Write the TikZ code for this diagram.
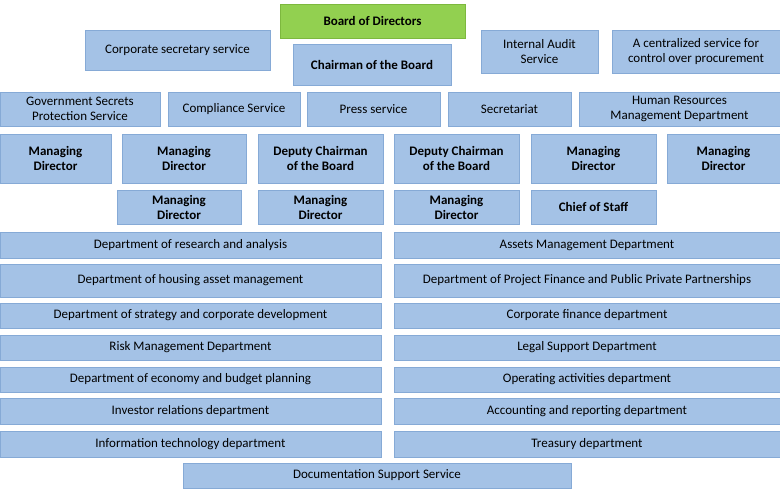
\documentclass[tikz,border=0pt]{standalone}
\usepackage{fontspec}
\setmainfont{Carlito}
\definecolor{bfill}{HTML}{A4C2E6}
\definecolor{bdraw}{HTML}{86AAD6}
\definecolor{gfill}{HTML}{92D050}
\definecolor{gdraw}{HTML}{7DB83E}
\newcommand\mybox[7]{\node[box,#6,minimum width={(#3-#1)*1pt},minimum height={(#4-#2)*1pt}] (#5) at ({(#1+#3)/2},{(#2+#4)/2}) {#7};}
\begin{document}
\begin{tikzpicture}[x=1pt,y=-1pt,
  box/.style={draw=bdraw,fill=bfill,line width=0.6pt,inner sep=1pt,align=center,font=\fontsize{13}{15}\selectfont,text=black},
  bld/.style={font=\fontsize{13}{15}\selectfont\bfseries},
  grn/.style={fill=gfill,draw=gdraw}]
\useasboundingbox (0,0) rectangle (780,500);
\mybox{280}{4}{465}{38}{bod}{bld,grn}{Board of Directors}
\mybox{85}{30}{270}{70}{css}{}{Corporate secretary service}
\mybox{293}{44}{451}{85}{chb}{bld}{Chairman of the Board}
\mybox{481}{30}{598}{73}{ias}{}{Internal Audit\\Service}
\mybox{612}{30}{780}{73}{csp}{}{A centralized service for\\control over procurement}
\mybox{0}{92}{160}{126}{gsp}{}{Government Secrets\\Protection Service}
\mybox{168}{92}{300}{126}{cs}{}{Compliance Service}
\mybox{307}{92}{440}{126}{ps}{}{Press service}
\mybox{448}{92}{571}{126}{sec}{}{Secretariat}
\mybox{579}{92}{780}{126}{hr}{}{Human Resources\\Management Department}
\mybox{0}{134}{111}{183}{md1}{bld}{Managing\\Director}
\mybox{122}{134}{246}{183}{md2}{bld}{Managing\\Director}
\mybox{258}{134}{383}{183}{dc1}{bld}{Deputy Chairman\\of the Board}
\mybox{394}{134}{519}{183}{dc2}{bld}{Deputy Chairman\\of the Board}
\mybox{531}{134}{656}{183}{md3}{bld}{Managing\\Director}
\mybox{667}{134}{780}{183}{md4}{bld}{Managing\\Director}
\mybox{117}{190}{241}{224}{md5}{bld}{Managing\\Director}
\mybox{258}{190}{383}{224}{md6}{bld}{Managing\\Director}
\mybox{394}{190}{519}{224}{md7}{bld}{Managing\\Director}
\mybox{531}{190}{656}{224}{cos}{bld}{Chief of Staff}
\mybox{0}{232}{381}{258}{l1}{}{Department of research and analysis}
\mybox{394}{232}{780}{258}{r1}{}{Assets Management Department}
\mybox{0}{264}{381}{297}{l2}{}{Department of housing asset management}
\mybox{394}{264}{780}{297}{r2}{}{Department of Project Finance and Public Private Partnerships}
\mybox{0}{303}{381}{328}{l3}{}{Department of strategy and corporate development}
\mybox{394}{303}{780}{328}{r3}{}{Corporate finance department}
\mybox{0}{335}{381}{360}{l4}{}{Risk Management Department}
\mybox{394}{335}{780}{360}{r4}{}{Legal Support Department}
\mybox{0}{367}{381}{392}{l5}{}{Department of economy and budget planning}
\mybox{394}{367}{780}{392}{r5}{}{Operating activities department}
\mybox{0}{398}{381}{424}{l6}{}{Investor relations department}
\mybox{394}{398}{780}{424}{r6}{}{Accounting and reporting department}
\mybox{0}{431}{381}{457}{l7}{}{Information technology department}
\mybox{394}{431}{780}{457}{r7}{}{Treasury department}
\mybox{183}{463}{571}{488}{dss}{}{Documentation Support Service}
\end{tikzpicture}
\end{document}
